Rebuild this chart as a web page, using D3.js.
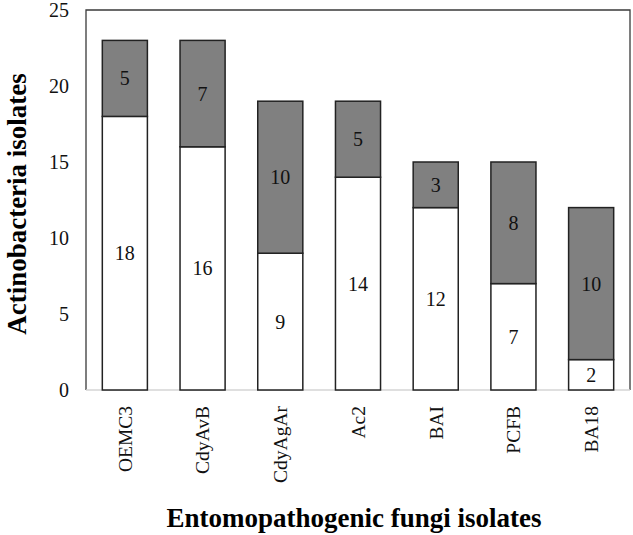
<!DOCTYPE html>
<html><head><meta charset="utf-8">
<script src="https://cdn.jsdelivr.net/npm/d3@7"></script>
<style>body{margin:0;background:#fff}svg{display:block}svg text{font-family:"Liberation Serif","Times New Roman",serif}</style>
</head><body>
<script>
const categories = ["OEMC3","CdyAvB","CdyAgAr","Ac2","BAI","PCFB","BA18"];
const lowerValues = [18,16,9,14,12,7,2];
const upperValues = [5,7,10,5,3,8,10];
const yTicks = [0,5,10,15,20,25];
const yTitle = "Actinobacteria isolates";
const xTitle = "Entomopathogenic fungi isolates";

const W=633,H=535;
const L=86,R=630,T=10,B=390;
const svg=d3.select("body").append("svg").attr("width",W).attr("height",H);
const font='"Liberation Serif","Times New Roman",serif';

const x=d3.scaleBand().domain(categories).range([L,R]).paddingInner(0.42).paddingOuter(0.21);
const y=d3.scaleLinear().domain([0,25]).range([B,T]);

const data=categories.map((c,i)=>({c,lo:lowerValues[i],hi:upperValues[i]}));

// frame
svg.append("path").attr("d",`M${L},${B}V${T}H${R}V${B}`).attr("fill","none").attr("stroke","#3a3a3a").attr("stroke-width",1.3);
svg.append("line").attr("x1",L).attr("x2",R).attr("y1",B).attr("y2",B).attr("stroke","#d4d4d4").attr("stroke-width",1.5);

const g=svg.selectAll("g.bar").data(data).join("g");
g.append("rect").attr("x",d=>x(d.c)).attr("width",x.bandwidth())
 .attr("y",d=>y(d.lo)).attr("height",d=>y(0)-y(d.lo))
 .attr("fill","#fff").attr("stroke","#222").attr("stroke-width",1.5);
g.append("rect").attr("x",d=>x(d.c)).attr("width",x.bandwidth())
 .attr("y",d=>y(d.lo+d.hi)).attr("height",d=>y(d.lo)-y(d.lo+d.hi))
 .attr("fill","#808080").attr("stroke","#222").attr("stroke-width",1.5);
g.append("text").attr("x",d=>x(d.c)+x.bandwidth()/2).attr("y",d=>y(d.lo/2))
 .attr("dy","0.35em").attr("text-anchor","middle").style("font-family",font).style("font-size","20px").attr("fill","#111").text(d=>d.lo);
g.append("text").attr("x",d=>x(d.c)+x.bandwidth()/2).attr("y",d=>y(d.lo+d.hi/2))
 .attr("dy","0.35em").attr("text-anchor","middle").style("font-family",font).style("font-size","20px").attr("fill","#111").text(d=>d.hi);

// y axis
const ya=svg.append("g").attr("transform",`translate(${L},0)`)
 .call(d3.axisLeft(y).tickValues(yTicks).tickSize(0).tickPadding(17));
ya.attr("font-family",null).attr("font-size",null);
ya.select(".domain").remove();
ya.selectAll("text").style("font-family",font).style("font-size","20px").attr("fill","#111");

// x axis
const xa=svg.append("g").attr("transform",`translate(0,${B})`)
 .call(d3.axisBottom(x).tickSize(0));
xa.attr("font-family",null).attr("font-size",null);
xa.select(".domain").remove();
xa.selectAll("text").style("font-family",font).style("font-size","19.5px").attr("fill","#111")
 .attr("transform","rotate(-90)").attr("text-anchor","end").attr("x",-16).attr("y",0).attr("dy","0.35em");

svg.append("text").attr("transform",`translate(26,204) rotate(-90)`).attr("text-anchor","middle")
 .style("font-family",font).attr("font-weight","bold").style("font-size","27px").text(yTitle);
svg.append("text").attr("x",354).attr("y",527).attr("text-anchor","middle")
 .style("font-family",font).attr("font-weight","bold").style("font-size","27px").text(xTitle);
</script>
</body></html>
